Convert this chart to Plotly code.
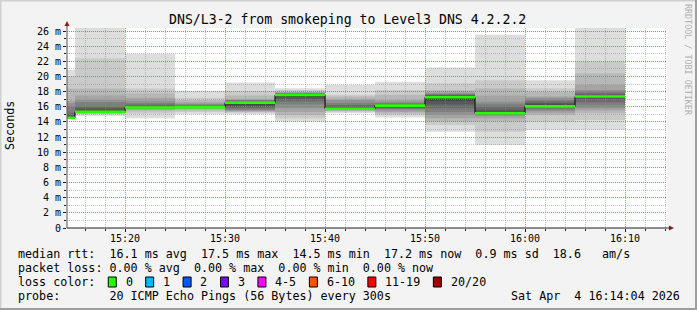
import plotly.graph_objects as go
from datetime import datetime, timedelta

# ---------------- data ----------------
day = "2026-04-04"
bin_end = ["15:15", "15:20", "15:25", "15:30", "15:35", "15:40",
           "15:45", "15:50", "15:55", "16:00", "16:05", "16:10"]
median_ms = [14.55, 15.35, 15.9, 15.95, 16.55, 17.55,
             15.75, 16.15, 17.25, 15.15, 16.05, 17.35]
# 20 sorted ping rtts (ms) per 5-minute step
pings_ms = [
    [14.35, 14.4, 14.4, 14.45, 14.45, 14.5, 14.5, 14.5, 14.55, 14.55,
     14.6, 14.7, 14.9, 15.2, 16.0, 16.5, 16.8, 18.4, 20.0, 20.9],
    [14.8, 15.0, 15.1, 15.15, 15.2, 15.25, 15.3, 15.3, 15.35, 15.35,
     15.4, 15.5, 15.8, 16.0, 16.6, 16.9, 17.5, 18.4, 22.4, 26.8],
    [14.5, 15.1, 15.4, 15.6, 15.7, 15.75, 15.8, 15.85, 15.9, 15.9,
     15.95, 16.0, 16.1, 16.3, 16.5, 16.8, 17.2, 17.8, 18.4, 23.0],
    [15.0, 15.3, 15.5, 15.7, 15.8, 15.85, 15.9, 15.9, 15.95, 15.95,
     16.0, 16.05, 16.1, 16.2, 16.3, 16.4, 16.6, 16.9, 17.2, 18.1],
    [15.0, 15.2, 15.3, 15.4, 15.5, 15.6, 15.8, 16.0, 16.2, 16.4,
     16.6, 16.7, 16.75, 16.8, 16.85, 16.9, 17.0, 17.5, 18.1, 19.2],
    [14.05, 14.5, 14.9, 15.3, 15.8, 16.3, 16.7, 17.0, 17.3, 17.45,
     17.6, 17.65, 17.7, 17.75, 17.8, 17.85, 17.9, 18.0, 18.2, 18.45],
    [15.15, 15.3, 15.45, 15.55, 15.6, 15.65, 15.7, 15.7, 15.75, 15.75,
     15.8, 15.9, 16.0, 16.25, 16.5, 16.9, 17.0, 17.35, 17.56, 18.9],
    [14.6, 14.9, 15.1, 15.3, 15.5, 15.7, 15.8, 15.9, 16.0, 16.1,
     16.2, 16.25, 16.3, 16.4, 16.5, 16.7, 16.9, 17.56, 18.2, 19.3],
    [12.7, 13.6, 14.05, 14.5, 14.9, 15.3, 15.8, 16.3, 16.8, 17.1,
     17.3, 17.4, 17.5, 17.6, 17.7, 17.8, 18.0, 18.2, 19.1, 21.2],
    [10.97, 12.7, 14.05, 14.5, 14.8, 14.9, 15.0, 15.05, 15.1, 15.1,
     15.2, 15.3, 15.6, 16.0, 16.4, 16.7, 17.5, 18.45, 19.5, 25.5],
    [12.95, 14.05, 14.9, 15.15, 15.4, 15.6, 15.8, 15.9, 15.95, 16.0,
     16.1, 16.3, 16.5, 16.7, 16.9, 17.2, 17.35, 18.0, 18.45, 19.5],
    [12.95, 14.27, 15.15, 15.5, 15.8, 16.2, 16.6, 17.0, 17.2, 17.3,
     17.4, 17.5, 17.6, 17.8, 18.0, 18.2, 18.9, 20.4, 21.95, 26.8],
]
step_minutes = 5
y_tick_values = list(range(0, 27, 2))
y_tick_labels = ["0"] + [f"{v} m" for v in y_tick_values[1:]]
title_text = "DNS/L3-2 from smokeping to Level3 DNS 4.2.2.2"
line_rtt = "median rtt:  16.1 ms avg  17.5 ms max  14.5 ms min  17.2 ms now  0.9 ms sd  18.6   am/s"
line_loss = "packet loss: 0.00 % avg  0.00 % max  0.00 % min  0.00 % now"
line_probe = "probe:       20 ICMP Echo Pings (56 Bytes) every 300s"
date_text = "Sat Apr  4 16:14:04 2026"
loss_labels = ["0", "1", "2", "3", "4-5", "6-10", "11-19", "20/20"]
loss_colors = ["#26ff00", "#00b8ff", "#0059ff", "#7e00ff",
               "#ff00ff", "#ff5500", "#ff0000", "#a10000"]
x_start, x_stop = f"{day} 15:14:12", f"{day} 16:14:12"

# ---------------- geometry helpers ----------------
W, Hh = 697, 310
PL, PR, PT, PB = 67, 667, 28, 228
def px(x): return (x - PL) / (PR - PL)
def py(y): return (PB - y) / (PB - PT)

ends = [datetime.fromisoformat(f"{day} {t}") for t in bin_end]
starts = [e - timedelta(minutes=step_minutes) for e in ends]

shapes = []
half = 10
for s, e, p in zip(starts, ends, pings_ms):
    for ii in range(1, half + 1):
        g = int(190 / half * (half - ii)) + 50
        shapes.append(dict(type="rect", xref="x", yref="y", layer="below",
                           x0=s, x1=e, y0=p[ii - 1], y1=p[20 - ii],
                           fillcolor=f"rgb({g},{g},{g})", line=dict(width=0)))

fig = go.Figure()
# black step connector
fig.add_trace(go.Scatter(x=starts + [ends[-1]], y=median_ms + [median_ms[-1]],
                         mode="lines", line=dict(color="#000000", width=1, shape="hv"),
                         hoverinfo="skip", showlegend=False))
gx, gy = [], []
for s, e, v in zip(starts, ends, median_ms):
    gx += [s, e, None]
    gy += [v, v, None]
fig.add_trace(go.Scatter(x=gx, y=gy, mode="lines",
                         line=dict(color=loss_colors[0], width=2.6),
                         hoverinfo="skip", showlegend=False))

# axes lines + arrows
shapes.append(dict(type="line", xref="paper", yref="paper", x0=px(67), x1=px(67),
                   y0=py(228), y1=py(23), line=dict(color="#555555", width=1), layer="above"))
shapes.append(dict(type="line", xref="paper", yref="paper", x0=px(67), x1=px(671),
                   y0=py(228), y1=py(228), line=dict(color="#1f1f1f", width=1), layer="above"))
shapes.append(dict(type="path", xref="paper", yref="paper", layer="above",
                   path=f"M {px(64.5)} {py(26)} L {px(69.5)} {py(26)} L {px(67)} {py(21)} Z",
                   fillcolor="#7f1f1f", line=dict(width=0)))
shapes.append(dict(type="path", xref="paper", yref="paper", layer="above",
                   path=f"M {px(669)} {py(225.5)} L {px(669)} {py(230.5)} L {px(674)} {py(228)} Z",
                   fillcolor="#7f1f1f", line=dict(width=0)))
# frame shading
shapes.append(dict(type="line", xref="paper", yref="paper", x0=px(0), x1=px(697),
                   y0=py(0.5), y1=py(0.5), line=dict(color="#cfcfcf", width=2), layer="above"))
shapes.append(dict(type="line", xref="paper", yref="paper", x0=px(0.5), x1=px(0.5),
                   y0=py(0), y1=py(310), line=dict(color="#cfcfcf", width=2), layer="above"))
shapes.append(dict(type="line", xref="paper", yref="paper", x0=px(0), x1=px(697),
                   y0=py(309), y1=py(309), line=dict(color="#9e9e9e", width=2), layer="above"))
shapes.append(dict(type="line", xref="paper", yref="paper", x0=px(696), x1=px(696),
                   y0=py(0), y1=py(310), line=dict(color="#9e9e9e", width=2), layer="above"))

MONO = "DejaVu Sans Mono"
CW = 7.02
def nb(s): return s.replace(" ", "\u00a0")

ann = []
def text(x, y, s, size=11.7, anchor="left", color="#000000", angle=0):
    ann.append(dict(x=px(x), y=py(y), xref="paper", yref="paper", text=nb(s),
                    showarrow=False, xanchor=anchor, yanchor="middle", textangle=angle,
                    font=dict(family=MONO, size=size, color=color)))

text(347.5, 19, title_text, size=13.2, anchor="center")
text(10, 126, "Seconds", anchor="center", angle=-90)
text(688, 60, "RRDTOOL / TOBI OETIKER", size=8.4, anchor="center", color="#b0b0b0", angle=90)
text(16, 254, line_rtt)
text(16, 268, line_loss)
text(16, 282, "loss color:")
text(16, 296, line_probe)
text(682, 296, date_text, anchor="right")

col = 13.0
for lab, c in zip(loss_labels, loss_colors):
    bx = 16 + col * CW + 1
    shapes.append(dict(type="rect", xref="paper", yref="paper", layer="above",
                       x0=px(bx), x1=px(bx + 8), y0=py(287), y1=py(277),
                       fillcolor=c, line=dict(color="#000000", width=1)))
    text(16 + (col + 2.33) * CW, 282, lab)
    col += 2.33 + len(lab) + 2

major_grid = "rgba(222,80,80,0.7)"
minor_grid = "rgba(143,143,143,0.55)"
fig.update_layout(
    width=W, height=Hh, autosize=False,
    margin=dict(l=PL, r=W - PR, t=PT, b=Hh - PB, pad=0),
    paper_bgcolor="#f3f3f3", plot_bgcolor="#ffffff",
    shapes=shapes, annotations=ann, showlegend=False,
    xaxis=dict(type="date", range=[x_start, x_stop], tickformat="%H:%M",
               tick0=f"{day} 15:20", dtick=600000,
               showgrid=True, gridcolor=major_grid, griddash="1px,1px", gridwidth=1,
               ticks="outside", ticklen=3, tickcolor="#1f1f1f", ticklabelstandoff=-2,
               minor=dict(tick0=f"{day} 15:20", dtick=120000, showgrid=True,
                          gridcolor=minor_grid, griddash="1px,1px", ticks="outside",
                          ticklen=2, tickcolor="#1f1f1f"),
               zeroline=False, showline=False, fixedrange=True,
               tickfont=dict(family=MONO, size=10, color="#000000")),
    yaxis=dict(range=[0, 26.4], tickvals=y_tick_values, ticktext=y_tick_labels,
               showgrid=True, gridcolor=major_grid, griddash="1px,1px", gridwidth=1,
               ticks="outside", ticklen=3, tickcolor="#1f1f1f",
               minor=dict(dtick=1, showgrid=True, gridcolor=minor_grid,
                          griddash="1px,1px", ticks="outside", ticklen=2,
                          tickcolor="#1f1f1f"),
               zeroline=False, showline=False, fixedrange=True,
               tickfont=dict(family=MONO, size=10, color="#000000")),
)
fig.write_html("out.html")
